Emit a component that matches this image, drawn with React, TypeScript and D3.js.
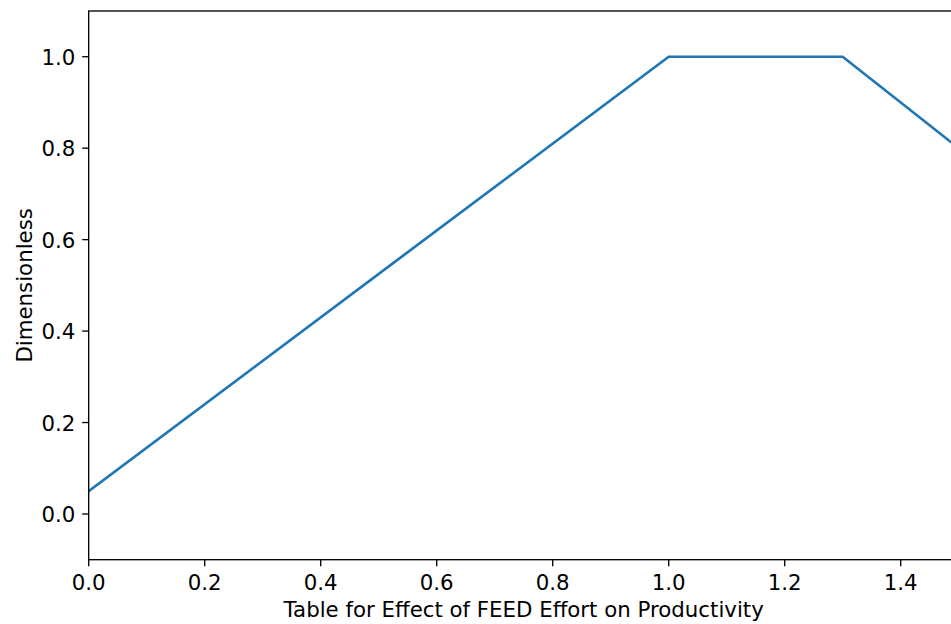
import React from "react";
import * as d3 from "d3";

const xValues = [0.0, 1.0, 1.3, 1.5];
const yValues = [0.05, 1.0, 1.0, 0.8];
const xTicks = [0.0, 0.2, 0.4, 0.6, 0.8, 1.0, 1.2, 1.4];
const yTicks = [0.0, 0.2, 0.4, 0.6, 0.8, 1.0];
const xLabel = "Table for Effect of FEED Effort on Productivity";
const yLabel = "Dimensionless";

export default function App() {
  const W = 951, H = 624;
  const left = 88.7, right = 958.7, top = 11, bottom = 559.7;
  const x = d3.scaleLinear().domain([0, 1.5]).range([left, right]);
  const y = d3.scaleLinear().domain([-0.1, 1.1]).range([bottom, top]);
  const pts = xValues.map((v, i) => [v, yValues[i]] as [number, number]);
  const line = d3.line<[number, number]>().x(d => x(d[0])).y(d => y(d[1]));
  const font = "'DejaVu Sans', sans-serif";
  const fs = 21.3;
  const tickLen = 6.5;
  return (
    <div style={{ position: "absolute", left: 0, top: 0, width: W, height: H, overflow: "hidden", background: "#fff" }}>
      <svg width={W} height={H} style={{ display: "block" }} fontFamily={font}>
        <rect x={0} y={0} width={W} height={H} fill="#fff" />
        <defs>
          <clipPath id="plot">
            <rect x={left} y={top} width={right - left} height={bottom - top} />
          </clipPath>
        </defs>
        <path d={line(pts) || ""} fill="none" stroke="#1f77b4" strokeWidth={2.7} strokeLinecap="square" clipPath="url(#plot)" />
        <rect x={left} y={top} width={right - left} height={bottom - top} fill="none" stroke="#000" strokeWidth={1.33} />
        {xTicks.map(t => (
          <g key={"x" + t}>
            <line x1={x(t)} x2={x(t)} y1={bottom} y2={bottom + tickLen} stroke="#000" strokeWidth={1.33} />
            <text x={x(t)} y={589.5} textAnchor="middle" fontSize={fs} fill="#000">{t.toFixed(1)}</text>
          </g>
        ))}
        {yTicks.map(t => (
          <g key={"y" + t}>
            <line x1={left - tickLen} x2={left} y1={y(t)} y2={y(t)} stroke="#000" strokeWidth={1.33} />
            <text x={75.4} y={y(t) + 8} textAnchor="end" fontSize={fs} fill="#000">{t.toFixed(1)}</text>
          </g>
        ))}
        <text x={(left + right) / 2} y={617.3} textAnchor="middle" fontSize={fs} fill="#000">{xLabel}</text>
        <text transform={`translate(${31.5},${(top + bottom) / 2}) rotate(-90)`} textAnchor="middle" fontSize={fs} fill="#000">{yLabel}</text>
      </svg>
    </div>
  );
}
